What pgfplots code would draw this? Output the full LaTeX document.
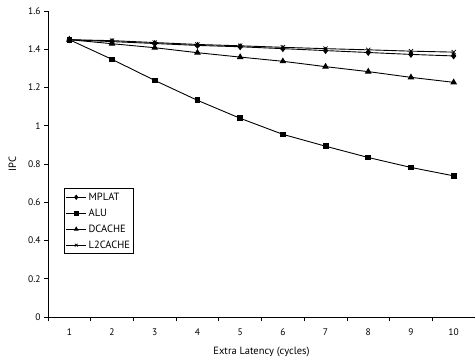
\documentclass[border=0pt]{standalone}
\usepackage{fontspec}
\setmainfont{PT Sans}
\usepackage{pgfplots}
\pgfplotsset{compat=1.18}
\begin{document}
\begin{tikzpicture}
\begin{axis}[
  scale only axis,
  width=427pt, height=306pt,
  xmin=0.5, xmax=10.5, ymin=0, ymax=1.6,
  axis x line=bottom, axis y line=left,
  axis line style={-, line width=0.8pt},
  xtick={1,...,10},
  minor xtick={0.5,1.5,...,10.5},
  major x tick style={draw=none},
  minor tick length=4pt,
  ytick={0,0.2,...,1.6},
  yticklabels={0,0.2,0.4,0.6,0.8,1,1.2,1.4,1.6},
  tick align=outside,
  major tick length=4pt,
  tick style={black, line width=0.8pt},
  ticklabel style={font=\fontsize{9.5}{11}\selectfont},
  xticklabel style={yshift=-4pt},
  /pgf/number format/assume math mode=true,
  xlabel={Extra Latency (cycles)},
  ylabel={IPC},
  label style={font=\fontsize{10.5}{12}\selectfont},
  xlabel style={yshift=-5pt},
  ylabel style={yshift=5pt},
  legend style={at={(0.0375,0.42)}, anchor=north west, draw=black, line width=0.6pt,
    font=\fontsize{10.5}{12}\selectfont, inner xsep=1.5pt, inner ysep=2pt, row sep=3pt, cells={anchor=west},
    /tikz/every even column/.append style={column sep=0pt}},
  legend image code/.code={\draw[mark repeat=2, mark phase=2, mark size=2pt] plot coordinates {(0cm,0cm) (0.35cm,0cm) (0.7cm,0cm)};},
  legend image post style={line width=0.9pt},
  every axis plot/.append style={line width=0.9pt, black},
]
\addplot[mark=diamond*, mark size=2.8pt] coordinates {(1,1.45)(2,1.44)(3,1.43)(4,1.42)(5,1.413)(6,1.403)(7,1.393)(8,1.383)(9,1.373)(10,1.365)};
\addlegendentry{MPLAT}
\addplot[mark=square*, mark size=2.4pt] coordinates {(1,1.45)(2,1.347)(3,1.237)(4,1.133)(5,1.039)(6,0.955)(7,0.893)(8,0.834)(9,0.782)(10,0.738)};
\addlegendentry{ALU}
\addplot[mark=triangle*, mark size=3pt] coordinates {(1,1.45)(2,1.429)(3,1.408)(4,1.382)(5,1.359)(6,1.337)(7,1.309)(8,1.283)(9,1.253)(10,1.227)};
\addlegendentry{DCACHE}
\addplot[mark=x, mark size=3pt, mark options={line width=0.7pt}] coordinates {(1,1.45)(2,1.445)(3,1.435)(4,1.425)(5,1.418)(6,1.41)(7,1.403)(8,1.397)(9,1.39)(10,1.385)};
\addlegendentry{L2CACHE\hspace{8pt}}
\end{axis}
\pgfresetboundingbox
\path ([shift={(-48pt,-44pt)}]current axis.south west) rectangle ([shift={(0pt,11pt)}]current axis.north east);
\end{tikzpicture}
\end{document}
